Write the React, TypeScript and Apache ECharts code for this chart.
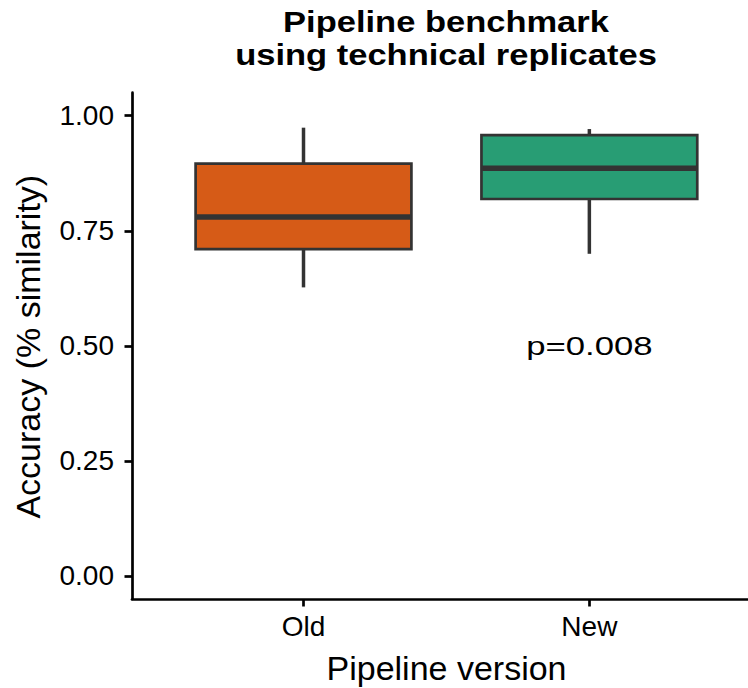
import React, { useEffect, useRef } from "react";
import * as echarts from "echarts";

const categories = ["Old", "New"];
const categoryPositions = [1, 2];
const lowerWhisker = [0.627, 0.7];
const lowerQuartile = [0.71, 0.819];
const medians = [0.78, 0.886];
const upperQuartile = [0.896, 0.958];
const upperWhisker = [0.974, 0.971];
const boxColors = ["#D65B17", "#289D74"];
const yTicks = [0, 0.25, 0.5, 0.75, 1];
const annotationPos = [2, 0.5];
const annotationText = "p=0.008";
const titleLines = ["Pipeline benchmark", "using technical replicates"];
const xTitle = "Pipeline version";
const yTitle = "Accuracy (% similarity)";

const FONT = "Liberation Sans, Arial, sans-serif";
const EDGE = "#333333";

export default function App() {
  const ref = useRef<HTMLDivElement>(null);
  useEffect(() => {
    if (!ref.current) return;
    const chart = echarts.init(ref.current, null, { renderer: "svg" });
    const boxData = categoryPositions.map((x, i) => [
      x,
      lowerWhisker[i],
      lowerQuartile[i],
      medians[i],
      upperQuartile[i],
      upperWhisker[i],
    ]);
    const option: any = {
      animation: false,
      textStyle: { fontFamily: FONT },
      grid: { left: 132, right: 0, top: 92.7, bottom: 89, containLabel: false },
      xAxis: {
        type: "value",
        min: 0.4,
        max: 2.555,
        splitLine: { show: false },
        axisLine: { show: true, onZero: false, lineStyle: { color: "#000", width: 2.7 } },
        axisTick: { show: true, customValues: categoryPositions, length: 7.5, lineStyle: { color: "#000", width: 2.7 } },
        axisLabel: {
          customValues: categoryPositions,
          formatter: (v: number) => categories[categoryPositions.indexOf(v)] ?? "",
          fontSize: 28,
          color: "#000",
          margin: 13,
          fontFamily: FONT,
        },
      },
      yAxis: {
        type: "value",
        min: -0.05,
        max: 1.05,
        splitLine: { show: false },
        axisLine: { show: true, onZero: false, lineStyle: { color: "#000", width: 2.7 } },
        axisTick: { show: true, customValues: yTicks, length: 7.5, lineStyle: { color: "#000", width: 2.7 } },
        axisLabel: {
          customValues: yTicks,
          formatter: (v: number) => v.toFixed(2),
          fontSize: 28,
          color: "#000",
          margin: 18,
          fontFamily: FONT,
        },
      },
      graphic: [
        {
          type: "text",
          x: 446,
          y: 21.7,
          scaleX: 1.15,
          style: { text: titleLines[0], fontSize: 30, fontWeight: "bold", fontFamily: FONT, fill: "#000", align: "center", verticalAlign: "middle", textAlign: "center", textVerticalAlign: "middle" },
        },
        {
          type: "text",
          x: 446,
          y: 55.2,
          scaleX: 1.15,
          style: { text: titleLines[1], fontSize: 30, fontWeight: "bold", fontFamily: FONT, fill: "#000", align: "center", verticalAlign: "middle", textAlign: "center", textVerticalAlign: "middle" },
        },
        {
          type: "text",
          x: 446.5,
          y: 668,
          style: { text: xTitle, fontSize: 34, fontFamily: FONT, fill: "#000", align: "center", verticalAlign: "middle", textAlign: "center", textVerticalAlign: "middle" },
        },
        {
          type: "text",
          x: 27.7,
          y: 346.7,
          rotation: Math.PI / 2,
          style: { text: yTitle, fontSize: 34, fontFamily: FONT, fill: "#000", align: "center", verticalAlign: "middle", textAlign: "center", textVerticalAlign: "middle" },
        },
      ],
      series: [
        {
          type: "custom",
          data: boxData,
          clip: false,
          renderItem: (params: any, api: any) => {
            const x = api.value(0);
            const lo = api.coord([x, api.value(1)]);
            const q1 = api.coord([x, api.value(2)]);
            const med = api.coord([x, api.value(3)]);
            const q3 = api.coord([x, api.value(4)]);
            const hi = api.coord([x, api.value(5)]);
            const w = api.size([0.755, 0])[0];
            const color = boxColors[params.dataIndex];
            return {
              type: "group",
              children: [
                { type: "line", shape: { x1: hi[0], y1: hi[1], x2: q3[0], y2: q3[1] }, style: { stroke: EDGE, lineWidth: 3.5 } },
                { type: "line", shape: { x1: q1[0], y1: q1[1], x2: lo[0], y2: lo[1] }, style: { stroke: EDGE, lineWidth: 3.5 } },
                { type: "rect", shape: { x: med[0] - w / 2, y: q3[1], width: w, height: q1[1] - q3[1] }, style: { fill: color, stroke: EDGE, lineWidth: 2.7 } },
                { type: "line", shape: { x1: med[0] - w / 2, y1: med[1], x2: med[0] + w / 2, y2: med[1] }, style: { stroke: EDGE, lineWidth: 5.5 } },
              ],
            };
          },
        },
        {
          type: "custom",
          data: [annotationPos],
          clip: false,
          renderItem: (_params: any, api: any) => {
            const p = api.coord([api.value(0), api.value(1)]);
            return {
              type: "text",
              x: p[0],
              y: p[1],
              scaleX: 1.31,
              style: { text: annotationText, fontSize: 26.5, fontFamily: FONT, fill: "#000", align: "center", verticalAlign: "middle", textAlign: "center", textVerticalAlign: "middle" },
            };
          },
        },
      ],
    };
    chart.setOption(option);
    return () => chart.dispose();
  }, []);
  return (
    <div
      ref={ref}
      style={{ position: "absolute", left: 0, top: 0, width: 748, height: 688, background: "#fff" }}
    />
  );
}
